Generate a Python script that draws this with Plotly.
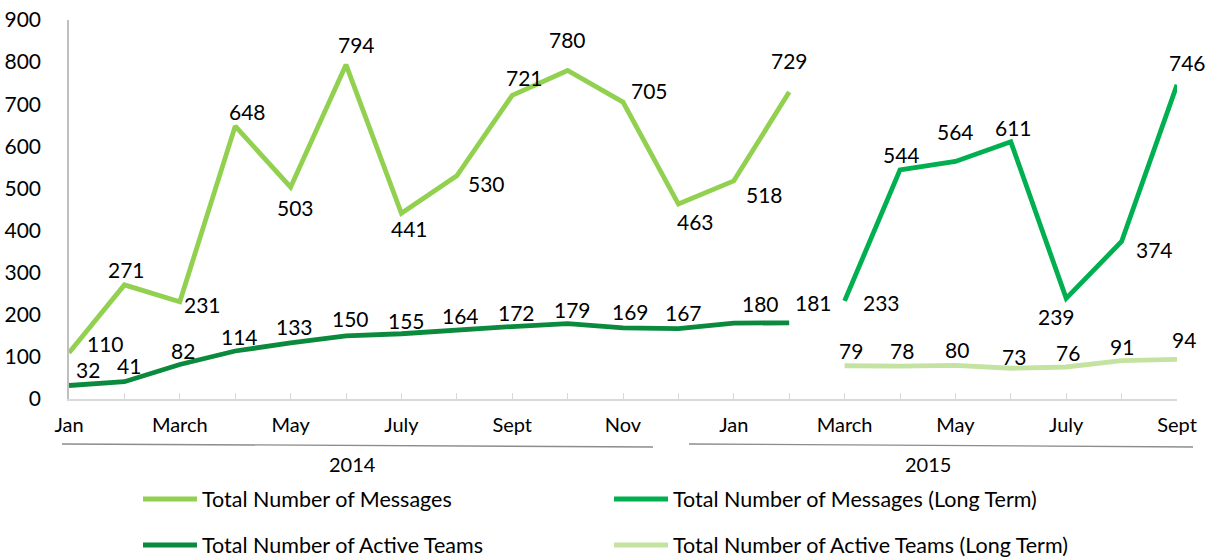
import plotly.graph_objects as go

# ---------------- data ----------------
months = ["Jan", "Feb", "March", "April", "May", "June", "July", "Aug", "Sept", "Oct", "Nov", "Dec",
          "Jan", "Feb", "March", "April", "May", "June", "July", "Aug", "Sept"]
years = ["2014"] * 12 + ["2015"] * 9

messages = [110, 271, 231, 648, 503, 794, 441, 530, 721, 780, 705, 463, 518, 729]
active_teams = [32, 41, 82, 114, 133, 150, 155, 164, 172, 179, 169, 167, 180, 181]
messages_lt = [233, 544, 564, 611, 239, 374, 746]
active_teams_lt = [79, 78, 80, 73, 76, 91, 94]

names = ["Total Number of Messages", "Total Number of Active Teams",
         "Total Number of Messages (Long Term)", "Total Number of Active Teams (Long Term)"]

# ---------------- style ----------------
FONT = "Lato"
FS = 21
colors = ["#92D050", "#0B8A3E", "#00B050", "#C4E3A0"]
# label offsets (dx, dy) in px, dy positive = downward
off_msg = [(36, -9), (2, -15), (23, 3), (12, -15), (5, 20), (10, -20), (8, 15), (30, 8),
           (12, -18), (0, -31), (26, -12), (17, 17), (31, 14), (0, -32)]
off_team = [(19, -16), (5, -16), (3, -14), (4, -14), (4, -16), (4, -17), (5, -13), (4, -14),
            (4, -14), (5, -14), (7, -16), (5, -16), (27, -20), (24, -20)]
off_msg_lt = [(37, 2), (1, -15), (0, -30), (3, -14), (-10, 18), (33, 8), (10, -22)]
off_team_lt = [(6, -15), (2, -16), (2, -16), (3, -12), (2, -15), (0, -14), (7, -20)]

n = len(months)
lt_start = n - len(messages_lt)
x_st = list(range(len(messages)))
x_lt = list(range(lt_start, n))

series = [
    (x_st, messages, off_msg),
    (x_st, active_teams, off_team),
    (x_lt, messages_lt, off_msg_lt),
    (x_lt, active_teams_lt, off_team_lt),
]

fig = go.Figure()
annotations = []
for (xs, ys, offs), name, col in zip(series, names, colors):
    fig.add_trace(go.Scatter(x=xs, y=ys, mode="lines", name=name,
                             line=dict(color=col, width=4.8), showlegend=False))
    for xv, yv, (dx, dy) in zip(xs, ys, offs):
        annotations.append(dict(x=xv, y=yv, xref="x", yref="y", text=str(yv), showarrow=False,
                                xshift=dx, yshift=-dy, xanchor="center", yanchor="middle",
                                font=dict(family=FONT, size=FS, color="#000000")))

# plot-area geometry in px (for decorations below the axis)
W, H = 1210, 559
L, R, T, B = 69, 33, 20, 160
pw, ph = W - L - R, H - T - B


def px_x(p):
    return (p - L) / pw


def px_y(p):
    return (H - B - p) / ph


shapes = []
# year group lines
for x0, y0, x1, y1 in [(62, 444, 653, 447), (689, 444, 1193, 447)]:
    shapes.append(dict(type="line", xref="paper", yref="paper",
                       x0=px_x(x0), y0=px_y(y0), x1=px_x(x1), y1=px_y(y1),
                       line=dict(color="#8c8c8c", width=1.3)))
# year labels
for yr, cx in [("2014", 352), ("2015", 928)]:
    annotations.append(dict(x=px_x(cx), y=px_y(464), xref="paper", yref="paper", text=yr,
                            showarrow=False, xanchor="center", yanchor="middle",
                            font=dict(family=FONT, size=FS - 1, color="#000000")))

# manual legend
leg_pos = [(143, 499), (143, 545), (614, 499), (614, 545)]
for (lx, ly), name, col in zip(leg_pos, names, colors):
    shapes.append(dict(type="line", xref="paper", yref="paper",
                       x0=px_x(lx), y0=px_y(ly), x1=px_x(lx + 54), y1=px_y(ly),
                       line=dict(color=col, width=4.8)))
    annotations.append(dict(x=px_x(lx + 57), y=px_y(ly), xref="paper", yref="paper", text=name,
                            showarrow=False, xanchor="left", yanchor="middle",
                            font=dict(family=FONT, size=FS + 0.5, color="#000000")))

tickvals = list(range(0, n, 2))
ticktext = [months[i] for i in tickvals]

fig.update_layout(
    template="none",
    width=W, height=H, autosize=False,
    margin=dict(l=L, r=R, t=T, b=B, pad=0),
    paper_bgcolor="white", plot_bgcolor="white",
    font=dict(family=FONT, size=FS, color="#000000"),
    showlegend=False,
    xaxis=dict(range=[0, n - 1], tickvals=tickvals, ticktext=ticktext, automargin=False,
               showgrid=False, zeroline=False, showline=True, linecolor="#d9d9d9", linewidth=1.5,
               ticks="inside", ticklen=6, tickcolor="#d9d9d9", tickwidth=1.3,
               minor=dict(dtick=1, tick0=0, ticks="inside", ticklen=6, tickcolor="#d9d9d9",
                          tickwidth=1.3, showgrid=False),
               ticklabelstandoff=7, tickfont=dict(family=FONT, size=FS - 1, color="#000000")),
    yaxis=dict(range=[0, 900], dtick=100, showgrid=False, zeroline=False, automargin=False,
               showline=True, linecolor="#bfbfbf", linewidth=1.5, ticks="",
               ticklabelstandoff=22, tickfont=dict(family=FONT, size=FS, color="#000000")),
    shapes=shapes,
    annotations=annotations,
)

fig.write_html("out.html", config={"displayModeBar": False},
               post_script="document.body.style.margin='0px';document.body.style.overflow='hidden';")
